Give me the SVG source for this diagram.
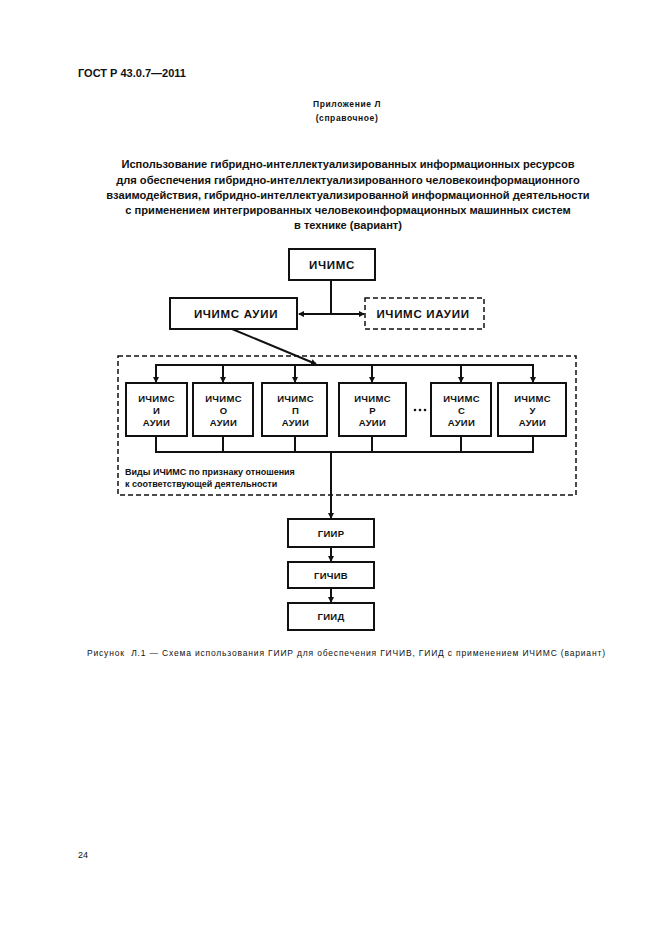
<svg xmlns="http://www.w3.org/2000/svg" width="661" height="936" viewBox="0 0 661 936">
<style>
text{font-family:"Liberation Sans",Arial,sans-serif;fill:#111}
.b{font-weight:bold}
.box{fill:#fff;stroke:#111;stroke-width:2}
.dbox{fill:none;stroke:#111;stroke-width:1.5;stroke-dasharray:5,3}
.ln{fill:none;stroke:#111;stroke-width:2}
.t{font-size:9.5px;font-weight:bold;text-anchor:middle;letter-spacing:0.3px}
.tb{font-size:11.5px;font-weight:bold;text-anchor:middle;letter-spacing:0.7px}
</style>
<defs>
<marker id="ar" markerWidth="6" markerHeight="6" refX="5" refY="3" orient="auto" markerUnits="userSpaceOnUse">
<path d="M0,0 L6,3 L0,6 Z" fill="#111"/>
</marker>
</defs>
<rect width="661" height="936" fill="#fff"/>
<text x="78" y="77" class="b" font-size="11">ГОСТ Р 43.0.7—2011</text>
<text x="347" y="107" class="b" font-size="8.5" text-anchor="middle" letter-spacing="0.6">Приложение Л</text>
<text x="347" y="121" class="b" font-size="8.5" text-anchor="middle" letter-spacing="0.6">(справочное)</text>
<g class="b" font-size="11.1" text-anchor="middle">
<text x="348" y="168">Использование гибридно-интеллектуализированных информационных ресурсов</text>
<text x="348" y="183.5">для обеспечения гибридно-интеллектуализированного человекоинформационного</text>
<text x="348" y="199">взаимодействия, гибридно-интеллектуализированной информационной деятельности</text>
<text x="348" y="214">с применением интегрированных человекоинформационных машинных систем</text>
<text x="348" y="229">в технике (вариант)</text>
</g>
<rect class="dbox" x="118" y="356" width="458" height="139"/>
<text x="125" y="475" font-size="9" class="b">Виды ИЧИМС по признаку отношения</text>
<text x="125" y="487" font-size="9" class="b">к соответствующей деятельности</text>
<g id="connectors">
<path class="ln" d="M331,280 V314"/>
<path class="ln" d="M331,314 H299" marker-end="url(#ar)"/>
<path class="ln" d="M331,314 H364" marker-end="url(#ar)"/>
<path class="ln" d="M232,329 L316,364" stroke-width="1.8" marker-end="url(#ar)"/>
<path class="ln" d="M156,383 V365 H533 V383"/>
<path class="ln" d="M156,365 V382" marker-end="url(#ar)"/>
<path class="ln" d="M223,365 V382" marker-end="url(#ar)"/>
<path class="ln" d="M295,365 V382" marker-end="url(#ar)"/>
<path class="ln" d="M372,365 V382" marker-end="url(#ar)"/>
<path class="ln" d="M461,365 V382" marker-end="url(#ar)"/>
<path class="ln" d="M533,365 V382" marker-end="url(#ar)"/>
<path class="ln" d="M156,436 V452 H533 V436"/>
<path class="ln" d="M223,436 V452 M295,436 V452 M372,436 V452 M461,436 V452"/>
<path class="ln" d="M331,452 V518" marker-end="url(#ar)"/>
<path class="ln" d="M331,547 V561" marker-end="url(#ar)"/>
<path class="ln" d="M331,588 V602" marker-end="url(#ar)"/>
</g>
<g id="ichims"><rect class="box" x="289" y="249" width="86" height="31"/><text class="tb" x="332" y="269" letter-spacing="1">ИЧИМС</text></g>
<g id="ichims-auii"><rect class="box" x="170" y="298" width="127" height="31"/><text class="tb" x="236" y="318">ИЧИМС АУИИ</text></g>
<g id="ichims-iauii"><rect class="dbox" x="365" y="298" width="119" height="31" stroke-width="2"/><text class="tb" x="423" y="318" letter-spacing="0.5">ИЧИМС ИАУИИ</text></g>
<g id="n-i"><rect class="box" x="126" y="383" width="61" height="53"/><text class="t" x="156.5" y="401.5">ИЧИМС</text><text class="t" x="156.5" y="413.5">И</text><text class="t" x="156.5" y="425.5">АУИИ</text></g>
<g id="n-o"><rect class="box" x="193" y="383" width="60" height="53"/><text class="t" x="223.5" y="401.5">ИЧИМС</text><text class="t" x="223.5" y="413.5">О</text><text class="t" x="223.5" y="425.5">АУИИ</text></g>
<g id="n-p"><rect class="box" x="262" y="383" width="65" height="53"/><text class="t" x="295.5" y="401.5">ИЧИМС</text><text class="t" x="295.5" y="413.5">П</text><text class="t" x="295.5" y="425.5">АУИИ</text></g>
<g id="n-r"><rect class="box" x="339" y="383" width="67" height="53"/><text class="t" x="372.5" y="401.5">ИЧИМС</text><text class="t" x="372.5" y="413.5">Р</text><text class="t" x="372.5" y="425.5">АУИИ</text></g>
<g id="dots"><circle cx="415" cy="410" r="1.3" fill="#111"/><circle cx="420" cy="410" r="1.3" fill="#111"/><circle cx="425" cy="410" r="1.3" fill="#111"/></g>
<g id="n-s"><rect class="box" x="431" y="383" width="60" height="53"/><text class="t" x="461.5" y="401.5">ИЧИМС</text><text class="t" x="461.5" y="413.5">С</text><text class="t" x="461.5" y="425.5">АУИИ</text></g>
<g id="n-u"><rect class="box" x="498" y="383" width="68" height="53"/><text class="t" x="532.5" y="401.5">ИЧИМС</text><text class="t" x="532.5" y="413.5">У</text><text class="t" x="532.5" y="425.5">АУИИ</text></g>
<g id="giir"><rect class="box" x="288" y="519" width="86" height="28"/><text class="t" x="331" y="536.5">ГИИР</text></g>
<g id="gichiv"><rect class="box" x="288" y="562" width="86" height="26"/><text class="t" x="331" y="578.5">ГИЧИВ</text></g>
<g id="giid"><rect class="box" x="288" y="603" width="86" height="27"/><text class="t" x="331" y="620">ГИИД</text></g>
<text x="87" y="656" font-size="8.5" textLength="518" lengthAdjust="spacing">Рисунок&#160; Л.1 — Схема использования ГИИР для обеспечения ГИЧИВ, ГИИД с применением ИЧИМС (вариант)</text>
<text x="78" y="858" font-size="9">24</text>
</svg>
